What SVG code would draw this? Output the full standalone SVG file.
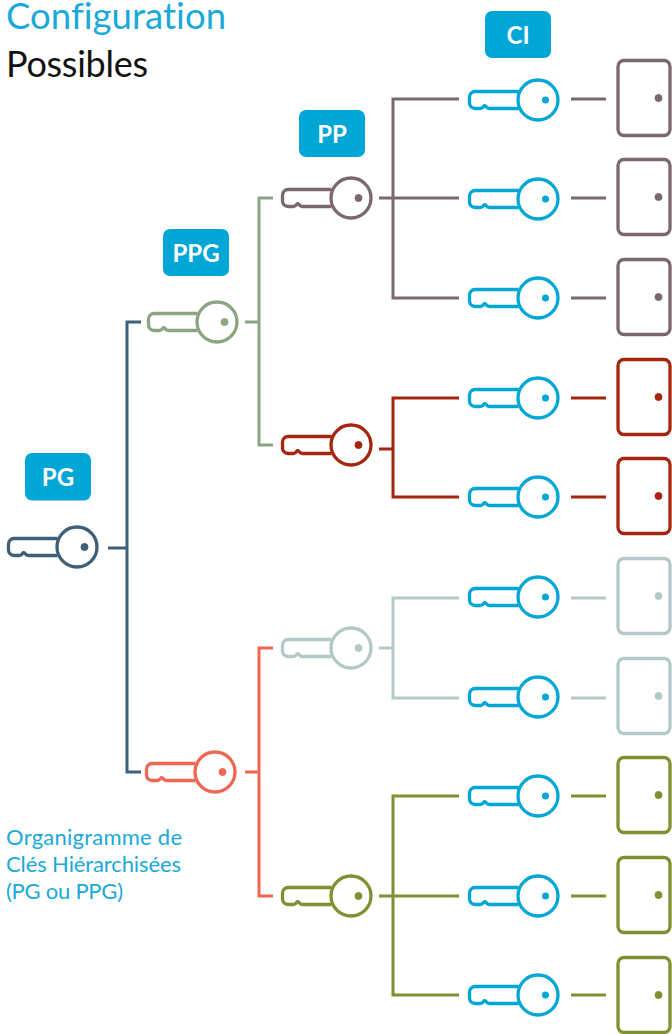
<svg xmlns="http://www.w3.org/2000/svg" width="672" height="1034" viewBox="0 0 672 1034">
<style>
.t{font-family:"Lato","Noto Sans",sans-serif;font-variant-ligatures:none}
.badge{fill:#00a6d6}
.bt{font-family:"Lato","Noto Sans",sans-serif;font-size:24px;font-weight:700;fill:#fff;text-anchor:middle}
.k,.d{fill:none;stroke:currentColor;stroke-width:3.300;stroke-linejoin:round}
.dot{fill:currentColor}
#connectors path{fill:none;stroke-width:3}
.navy{color:#3f5f78;stroke:#3f5f78}.sage{color:#8ba583;stroke:#8ba583}.mauve{color:#7b686f;stroke:#7b686f}.red{color:#a5260f;stroke:#a5260f}.pale{color:#b3c9c7;stroke:#b3c9c7}.olive{color:#7f9030;stroke:#7f9030}.coral{color:#ef6753;stroke:#ef6753}.cyan{color:#00a6d6}
</style>
<defs>
<g id="key"><circle class="k" r="20"/><path class="k" d="M-19.500,-8.500H-63a5.500,5.500 0 0 0 -5.500,5.500V3a5.500,5.500 0 0 0 5.500,5.500H-57.500Q-55.500,8.500 -54.500,6.500Q-53.500,5 -52,6.500Q-50.500,8.500 -48.500,8.500H-19.500"/><circle class="dot" cx="7.500" r="3.500"/></g>
<g id="door"><rect class="d" x="618" y="60.500" width="52" height="75" rx="6"/><circle class="dot" cx="658.500" cy="98" r="3.500"/></g>
</defs>
<g id="connectors">
<path class="navy" d="M108,548H127M141,322H127V772H141"/>
<path class="sage" d="M245,322H259M273,198H259V445H273"/>
<path class="coral" d="M245,772H259M273,648H259V896H273"/>
<path class="mauve" d="M379,198H459M459,99H393V298H459M571,99H606M571,198H606M571,298H606"/>
<path class="red" d="M379,449H393M459,398H393V497H459M571,398H606M571,497H606"/>
<path class="pale" d="M379,648H393M459,598H393V698H459M571,598H606M571,698H606"/>
<path class="olive" d="M379,896H459M459,796H393V995H459M571,796H606M571,896H606M571,995H606"/>
</g>
<g id="title">
<text class="t" x="6" y="29" font-size="36.500" fill="#1aa9d8" textLength="220">Configuration</text>
<text class="t" x="6" y="77" font-size="36" fill="#111" textLength="142">Possibles</text>
</g>
<g id="label-org">
<text class="t" x="6" y="845" font-size="22" fill="#1aa9d8" textLength="176">Organigramme de</text>
<text class="t" x="6" y="872" font-size="22" fill="#1aa9d8" textLength="175">Clés Hiérarchisées</text>
<text class="t" x="6" y="899" font-size="22" fill="#1aa9d8" textLength="117">(PG ou PPG)</text>
</g>
<g id="badge-pg"><rect class="badge" x="25" y="453" width="66" height="47.500" rx="7"/><text class="bt" x="58" y="486">PG</text></g>
<g id="badge-ppg"><rect class="badge" x="163" y="229" width="66" height="47" rx="7"/><text class="bt" x="196" y="262">PPG</text></g>
<g id="badge-pp"><rect class="badge" x="299" y="110" width="66" height="47" rx="7"/><text class="bt" x="332" y="143">PP</text></g>
<g id="badge-ci"><rect class="badge" x="485" y="11" width="66" height="47" rx="7"/><text class="bt" x="518" y="44">CI</text></g>
<g id="key-pg" class="navy"><use href="#key" x="77" y="547"/></g>
<g id="key-ppg1" class="sage"><use href="#key" x="217" y="322"/></g>
<g id="key-ppg2" class="coral"><use href="#key" x="215" y="772"/></g>
<g id="key-pp1" class="mauve"><use href="#key" x="351" y="198"/></g>
<g id="key-pp2" class="red"><use href="#key" x="351" y="445"/></g>
<g id="key-pp3" class="pale"><use href="#key" x="351" y="648"/></g>
<g id="key-pp4" class="olive"><use href="#key" x="351" y="896"/></g>
<g id="key-ci1" class="cyan"><use href="#key" x="538" y="100"/></g>
<g id="key-ci2" class="cyan"><use href="#key" x="538" y="199"/></g>
<g id="key-ci3" class="cyan"><use href="#key" x="538" y="298"/></g>
<g id="key-ci4" class="cyan"><use href="#key" x="538" y="398"/></g>
<g id="key-ci5" class="cyan"><use href="#key" x="538" y="497"/></g>
<g id="key-ci6" class="cyan"><use href="#key" x="538" y="597"/></g>
<g id="key-ci7" class="cyan"><use href="#key" x="538" y="697"/></g>
<g id="key-ci8" class="cyan"><use href="#key" x="538" y="796"/></g>
<g id="key-ci9" class="cyan"><use href="#key" x="538" y="896"/></g>
<g id="key-ci10" class="cyan"><use href="#key" x="538" y="995"/></g>
<g id="door-1" class="mauve"><use href="#door" y="0"/></g>
<g id="door-2" class="mauve"><use href="#door" y="99"/></g>
<g id="door-3" class="mauve"><use href="#door" y="199"/></g>
<g id="door-4" class="red"><use href="#door" y="299"/></g>
<g id="door-5" class="red"><use href="#door" y="398"/></g>
<g id="door-6" class="pale"><use href="#door" y="498"/></g>
<g id="door-7" class="pale"><use href="#door" y="598"/></g>
<g id="door-8" class="olive"><use href="#door" y="697"/></g>
<g id="door-9" class="olive"><use href="#door" y="797"/></g>
<g id="door-10" class="olive"><use href="#door" y="897"/></g>
</svg>
